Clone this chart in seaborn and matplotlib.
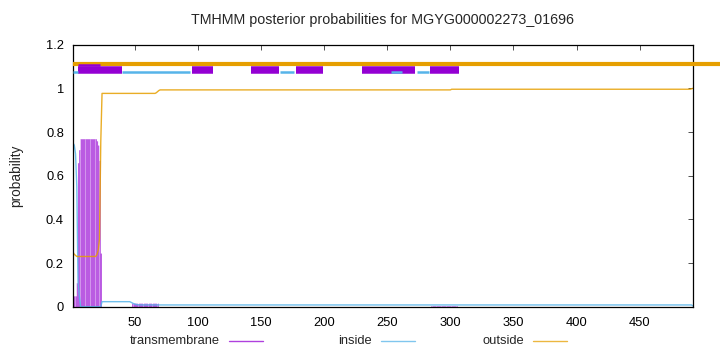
import numpy as np
import pandas as pd
import seaborn as sns
import matplotlib.pyplot as plt
from matplotlib.lines import Line2D

# %% DATA (per residue, run-length encoded)

seq_len = 492

tm_vals = [0.02, 0.05, 0.05, 0.11, 0.66, 0.72, 0.77, 0.76, 0.74, 0.67, 0.245, 0.0, 0.015, 0.0, 0.004, 0.0]
tm_runs = [1, 1, 1, 1, 1, 1, 13, 1, 1, 1, 1, 24, 21, 216, 21, 187]

in_vals = [0.75, 0.74, 0.70, 0.55, 0.11, 0.05, 0.0, 0.023, 0.02, 0.017, 0.014, 0.012, 0.01, 0.009, 0.008, 0.004]
in_runs = [1, 1, 1, 1, 1, 1, 17, 23, 1, 1, 1, 1, 1, 1, 439, 1]

out_vals = [0.25, 0.24, 0.235, 0.23, 0.24, 0.26, 0.31, 0.755, 0.977, 0.98, 0.985, 0.99, 0.993, 0.996, 0.998, 1.0]
out_runs = [1, 1, 1, 16, 1, 1, 1, 1, 43, 1, 1, 1, 231, 190, 1, 1]

# predicted topology (segments in residue coordinates)
outside_seg = [(1, 515)]
inside_seg = [(0.8, 4.8), (39.7, 94), (165, 176.2), (253, 261.4), (273.3, 283.3)]
tm_seg = [(4.8, 39.7), (95, 112.2), (142.1, 164), (177.3, 199.2), (230.2, 272.2), (284.1, 306.7)]
tm_top_seg = [(5.3, 22)]

xticks = [50, 100, 150, 200, 250, 300, 350, 400, 450]
yticks = [0, 0.2, 0.4, 0.6, 0.8, 1.0, 1.2]
ytick_labels = ['0', '0.2', '0.4', '0.6', '0.8', '1', '1.2']

title = 'TMHMM posterior probabilities for MGYG000002273_01696'
series_names = ['transmembrane', 'inside', 'outside']

data = pd.DataFrame({
    'pos': np.arange(1, seq_len + 1),
    'transmembrane': np.repeat(tm_vals, tm_runs),
    'inside': np.repeat(in_vals, in_runs),
    'outside': np.repeat(out_vals, out_runs),
})

# %% PLOT

sns.set_style('white')
plt.rcParams['font.family'] = ['Liberation Sans', 'DejaVu Sans']

purple = '#9400D3'
blue = '#56B4E9'
orange = '#E69F00'

fig = plt.figure(figsize=(7.2, 3.52), dpi=100)
ax = fig.add_axes([0.1014, 0.1287, 0.8607, 0.7443])

# transmembrane as impulses
ax.fill_between(data['pos'], 0, data['transmembrane'], step='mid', color=purple, alpha=0.42, lw=0)
ax.vlines(data['pos'], 0, data['transmembrane'], color=purple, alpha=0.45, lw=0.6)

sns.lineplot(data=data, x='pos', y='inside', color=blue, lw=1.0, alpha=0.85, ax=ax)
sns.lineplot(data=data, x='pos', y='outside', color=orange, lw=1.0, alpha=0.85, ax=ax)

# topology bars on top
for a, b in outside_seg:
    ax.plot([a, b], [1.113, 1.113], color=orange, lw=3.0, solid_capstyle='butt', clip_on=False, zorder=3)
for a, b in tm_seg:
    ax.plot([a, b], [1.086, 1.086], color=purple, lw=5.4, solid_capstyle='butt', zorder=4)
for a, b in tm_top_seg:
    ax.plot([a, b], [1.108, 1.108], color=purple, lw=1.8, solid_capstyle='butt', zorder=4)
for a, b in inside_seg:
    ax.plot([a, b], [1.074, 1.074], color=blue, lw=1.8, solid_capstyle='butt', zorder=5)

ax.set_xlim(1, seq_len)
ax.set_ylim(0, 1.2)
ax.set_xticks(xticks)
ax.set_xticklabels([str(t) for t in xticks])
ax.set_yticks(yticks)
ax.set_yticklabels(ytick_labels)
ax.set_xlabel('')
ax.set_ylabel('')
ax.tick_params(axis='both', direction='in', length=3.5, width=0.6, colors='#333333',
               labelcolor='black', labelsize=9.3, top=True, right=True)
ax.tick_params(axis='x', pad=7.5)
ax.tick_params(axis='y', pad=6.5)
for s in ax.spines.values():
    s.set_visible(True)
    s.set_color('black')
    s.set_linewidth(0.9)

fig.text(0.5318, 1 - 20 / 352, title, ha='center', va='center', fontsize=10.3)
fig.text(16 / 720, 1 - 176 / 352, 'probability', rotation=90, ha='center', va='center', fontsize=9.8)

# gnuplot style key: text right aligned, sample line after it
key_text_right = [220, 372, 524]
key_colors = [purple, blue, orange]
key_y = 1 - 341.3 / 352
for name, xr, c in zip(series_names, key_text_right, key_colors):
    fig.text(xr / 720, key_y, name, ha='right', va='center', fontsize=9.3)
    fig.add_artist(Line2D([(xr + 9) / 720, (xr + 43) / 720], [key_y, key_y],
                          color=c, lw=1.0, alpha=0.75, transform=fig.transFigure))

fig.savefig('out.png', dpi=100)
